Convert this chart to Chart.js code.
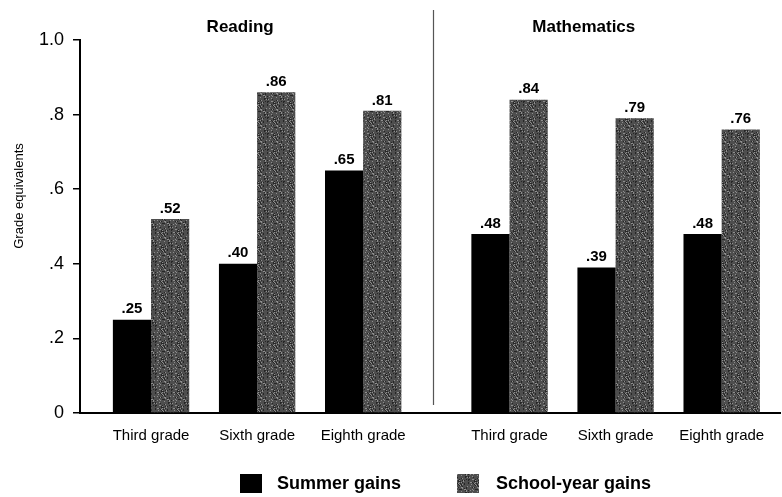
<!DOCTYPE html>
<html>
<head>
<meta charset="utf-8">
<script src="https://cdn.jsdelivr.net/npm/chart.js@4.4.1/dist/chart.umd.min.js"></script>
<style>
    body { margin: 0; background: #fff; font-family: "Liberation Sans", Arial, sans-serif; }
    #wrap { position: relative; width: 782px; height: 497px; }
    .legend-item { position: absolute; top: 473px; display: flex; align-items: center; font-weight: bold; font-size: 18px; color: #000; }
    .legend-box { width: 22px; height: 19px; display: inline-block; }
</style>
</head>
<body>
<div id="wrap">
    <canvas id="chart"></canvas>
    <div class="legend-item" style="left:240px"><span class="legend-box" id="box0"></span><span style="margin-left:15px">Summer gains</span></div>
    <div class="legend-item" style="left:457px"><span class="legend-box" id="box1"></span><span style="margin-left:17px">School-year gains</span></div>
</div>
<script>
// Data
const subjects = ['Reading', 'Mathematics'];
const grades = ['Third grade', 'Sixth grade', 'Eighth grade'];
const readingSummer = [0.25, 0.40, 0.65];
const readingSchool = [0.52, 0.86, 0.81];
const mathSummer = [0.48, 0.39, 0.48];
const mathSchool = [0.84, 0.79, 0.76];
const yTickLabels = ['0', '.2', '.4', '.6', '.8', '1.0'];

// layout on the linear x scale (group index units)
const mathOffset = 3.38;
const dividerAt = 2.66;
const titleAt = [0.84, 4.08];

const xPos = [...grades.map((g, i) => i), ...grades.map((g, i) => i + mathOffset)];
const xLabels = [...grades, ...grades];
const toPoints = (a, b) => [...a, ...b].map((v, i) => ({ x: xPos[i], y: v }));

// speckled grey like the print (fixed hash texture)
function makeStipple() {
    const n = 16;
    const c = document.createElement('canvas');
    c.width = n; c.height = n;
    const g = c.getContext('2d');
    g.fillStyle = '#4e4e4e';
    g.fillRect(0, 0, n, n);
    for (let i = 0; i < n; i++) {
        for (let j = 0; j < n; j++) {
            const h = ((i * 7919) ^ (j * 104729) ^ (i * j * 31)) % 13;
            if (h === 0 || h === 5) { g.fillStyle = '#8e8e8e'; g.fillRect(i, j, 1, 1); }
            else if (h === 3 || h === 9) { g.fillStyle = '#262626'; g.fillRect(i, j, 1, 1); }
        }
    }
    return c;
}
const stippleCanvas = makeStipple();
const stipple = document.getElementById('chart').getContext('2d').createPattern(stippleCanvas, 'repeat');

document.getElementById('box0').style.background = '#000';
document.getElementById('box1').style.background = 'url(' + stippleCanvas.toDataURL() + ')';

const fmt = v => v.toFixed(2).replace(/^0/, '');

const extras = {
    id: 'extras',
    afterDatasetsDraw(chart) {
        const ctx = chart.ctx;
        const x = chart.scales.x;
        ctx.save();
        // value labels
        ctx.fillStyle = '#000';
        ctx.font = 'bold 15px "Liberation Sans", Arial, sans-serif';
        ctx.textAlign = 'center';
        ctx.textBaseline = 'bottom';
        chart.data.datasets.forEach((ds, di) => {
            chart.getDatasetMeta(di).data.forEach((bar, i) => {
                ctx.fillText(fmt(ds.data[i].y), bar.x, bar.y - 3);
            });
        });
        // panel titles
        ctx.font = 'bold 17px "Liberation Sans", Arial, sans-serif';
        ctx.textBaseline = 'middle';
        subjects.forEach((s, i) => ctx.fillText(s, x.getPixelForValue(titleAt[i]), 27));
        // divider
        const dx = Math.round(x.getPixelForValue(dividerAt)) + 0.5;
        ctx.strokeStyle = '#555';
        ctx.lineWidth = 1.2;
        ctx.beginPath();
        ctx.moveTo(dx, 10);
        ctx.lineTo(dx, 405);
        ctx.stroke();
        // y title
        ctx.translate(19, 196);
        ctx.rotate(-Math.PI / 2);
        ctx.font = '13px "Liberation Sans", Arial, sans-serif';
        ctx.fillText('Grade equivalents', 0, 0);
        ctx.restore();
    }
};

new Chart(document.getElementById('chart'), {
    type: 'bar',
    data: {
        datasets: [
            { label: 'Summer gains', data: toPoints(readingSummer, mathSummer), backgroundColor: '#000' },
            { label: 'School-year gains', data: toPoints(readingSchool, mathSchool), backgroundColor: stipple }
        ]
    },
    options: {
        responsive: true,
        maintainAspectRatio: false,
        animation: false,
        categoryPercentage: 0.72,
        barPercentage: 1.0,
        layout: { padding: { top: 40, left: 0, right: 2, bottom: 44 } },
        plugins: { legend: { display: false }, tooltip: { enabled: false } },
        scales: {
            x: {
                type: 'linear',
                offset: false,
                min: -0.67,
                max: 5.93,
                afterBuildTicks: s => { s.ticks = xPos.map(v => ({ value: v })); },
                afterFit: s => { s.height = 40; },
                grid: { display: false, drawTicks: false },
                border: { display: true, color: '#000', width: 2 },
                ticks: {
                    padding: 14,
                    color: '#000',
                    autoSkip: false,
                    maxRotation: 0,
                    font: { family: '"Liberation Sans", Arial, sans-serif', size: 15 },
                    callback: (v, i) => xLabels[i]
                }
            },
            y: {
                min: 0,
                max: 1,
                afterFit: s => { s.width = 80; },
                grid: { drawOnChartArea: false, drawTicks: true, tickLength: 7, color: '#000', lineWidth: 1.5 },
                border: { display: true, color: '#000', width: 2 },
                ticks: {
                    stepSize: 0.2,
                    padding: 9,
                    color: '#000',
                    font: { family: '"Liberation Sans", Arial, sans-serif', size: 18 },
                    callback: (v, i) => yTickLabels[i]
                }
            }
        }
    },
    plugins: [extras]
});
</script>
</body>
</html>
